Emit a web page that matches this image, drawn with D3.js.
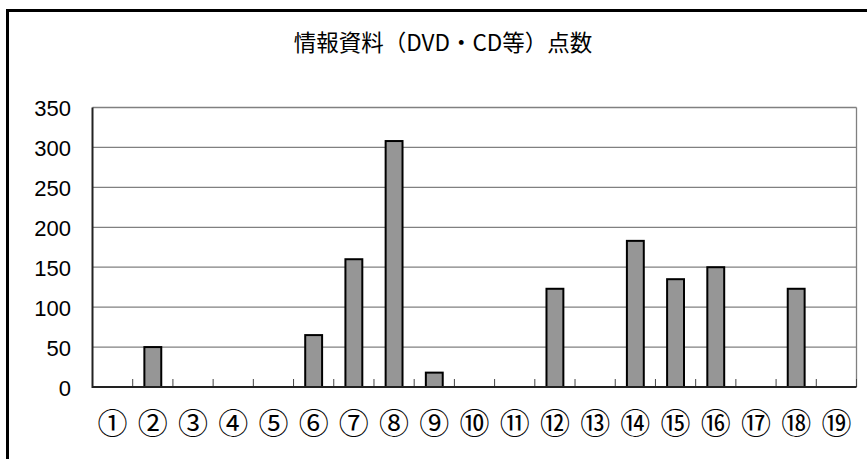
<!DOCTYPE html>
<html>
<head>
<meta charset="utf-8">
<script src="https://cdn.jsdelivr.net/npm/d3@7"></script>
<style>
  body { margin: 0; background: #fff; }
  svg { display: block; }
</style>
</head>
<body>
<div id="chart"></div>
<script>
// chart data
const categories = ["①","②","③","④","⑤","⑥","⑦","⑧","⑨","⑩","⑪","⑫","⑬","⑭","⑮","⑯","⑰","⑱","⑲"];
const counts = [0, 50, 0, 0, 0, 65, 160, 308, 18, 0, 0, 123, 0, 183, 135, 150, 0, 123, 0];
const yTicks = [0, 50, 100, 150, 200, 250, 300, 350];
const title = "情報資料（DVD・CD等）点数";

let dims = { "width": 867, "height": 459 }
let plot = { "left": 92.5, "right": 856.5, "top": 107.5, "bottom": 387 }

const svg = d3.select("#chart").append("svg")
  .attr("width", dims.width).attr("height", dims.height);

// outer frame (runs off the right and bottom of the picture)
svg.append("rect")
  .attr("x", 7.5).attr("y", 10.5)
  .attr("width", 900).attr("height", 500)
  .attr("fill", "none").attr("stroke", "#000").attr("stroke-width", 3);

svg.append("text")
  .attr("x", 443).attr("y", 51)
  .attr("text-anchor", "middle")
  .style("font-family", "'Noto Sans CJK JP'")
  .style("font-size", "22.5px")
  .attr("fill", "#000")
  .text(title);

const x = d3.scaleBand()
  .domain(categories)
  .range([plot.left, plot.right])
  .paddingInner(0.58).paddingOuter(0.29);

const y = d3.scaleLinear()
  .domain([0, 350])
  .range([plot.bottom, plot.top]);

// gridlines
svg.append("g")
  .selectAll("line")
  .data(yTicks.filter(d => d > 0))
  .join("line")
  .attr("x1", plot.left).attr("x2", plot.right)
  .attr("y1", d => y(d)).attr("y2", d => y(d))
  .attr("stroke", "#808080").attr("stroke-width", 1.3);

// right edge of plot area
svg.append("line")
  .attr("x1", plot.right).attr("x2", plot.right)
  .attr("y1", plot.top).attr("y2", plot.bottom)
  .attr("stroke", "#808080").attr("stroke-width", 1.3);

// y labels
svg.append("g")
  .selectAll("text")
  .data(yTicks)
  .join("text")
  .attr("x", 71).attr("y", d => y(d) + 8.5)
  .attr("text-anchor", "end")
  .style("font-family", "'Liberation Sans', Arial, sans-serif")
  .style("font-size", "22px")
  .attr("fill", "#000")
  .text(d => d);

// bars
svg.append("g")
  .selectAll("rect")
  .data(counts.map((v, i) => [categories[i], v]).filter(d => d[1] > 0))
  .join("rect")
  .attr("x", d => x(d[0]))
  .attr("y", d => y(d[1]))
  .attr("width", x.bandwidth())
  .attr("height", d => y(0) - y(d[1]))
  .attr("fill", "#969696")
  .attr("stroke", "#000")
  .attr("stroke-width", 2);

// x tick marks at category boundaries
const step = x.step();
svg.append("g")
  .selectAll("line")
  .data(d3.range(1, categories.length + 1))
  .join("line")
  .attr("x1", i => plot.left + i * step).attr("x2", i => plot.left + i * step)
  .attr("y1", plot.bottom - 8).attr("y2", plot.bottom)
  .attr("stroke", "#444").attr("stroke-width", 1);

// axis lines
svg.append("line")
  .attr("x1", plot.left).attr("x2", plot.left)
  .attr("y1", plot.top).attr("y2", plot.bottom + 1)
  .attr("stroke", "#222").attr("stroke-width", 2);
svg.append("line")
  .attr("x1", plot.left).attr("x2", plot.right)
  .attr("y1", plot.bottom).attr("y2", plot.bottom)
  .attr("stroke", "#222").attr("stroke-width", 2);

// x labels
svg.append("g")
  .selectAll("text")
  .data(categories)
  .join("text")
  .attr("x", d => x(d) + x.bandwidth() / 2)
  .attr("y", 434)
  .attr("text-anchor", "middle")
  .style("font-family", "'Noto Sans CJK JP'")
  .style("font-size", "30px")
  .attr("fill", "#000")
  .text(d => d);
</script>
</body>
</html>
